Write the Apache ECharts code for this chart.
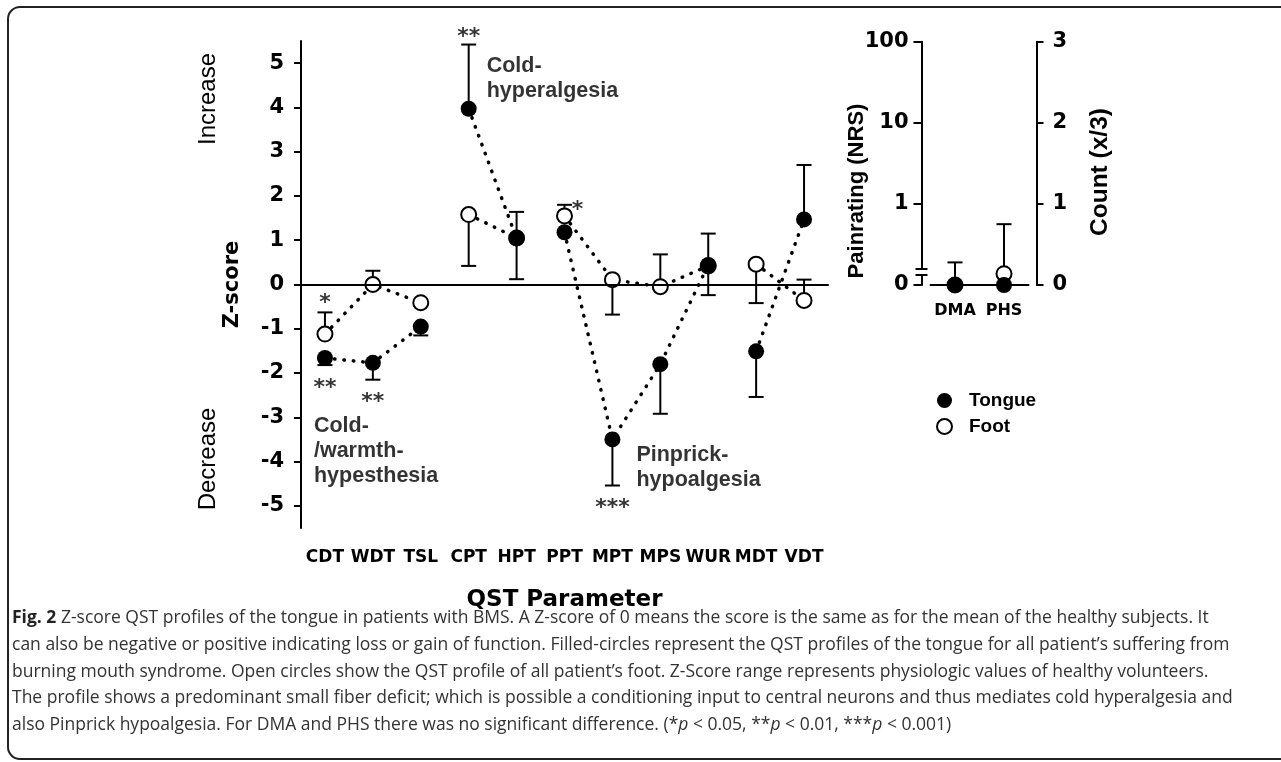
<!DOCTYPE html>
<html>
<head>
<meta charset="utf-8">
<script src="https://cdn.jsdelivr.net/npm/echarts@6/dist/echarts.min.js"></script>
<style>
  html, body { margin: 0; padding: 0; background: #fff; }
  #chart { width: 1281px; height: 762px; }
</style>
</head>
<body>
<div id="chart"></div>
<script>
// QST parameters and z-scores
const categories = ["CDT", "WDT", "TSL", "CPT", "HPT", "PPT", "MPT", "MPS", "WUR", "MDT", "VDT"];
const tongue = [-1.66, -1.77, -0.95, 3.97, 1.04, 1.18, -3.5, -1.8, 0.44, -1.51, 1.47];
const tongueErrLow = [-1.82, -2.15, -1.15, null, 0.12, null, -4.54, -2.92, -0.24, -2.54, null];
const tongueErrHigh = [null, null, null, 5.42, 1.64, null, null, null, 1.15, null, 2.7];
const foot = [-1.12, 0.0, -0.41, 1.58, 1.05, 1.55, 0.11, -0.05, 0.42, 0.46, -0.36];
const footErrLow = [null, null, null, 0.42, null, null, -0.68, null, null, -0.42, null];
const footErrHigh = [-0.63, 0.31, null, null, null, 1.8, null, 0.68, null, null, 0.11];
// index ranges joined by the dotted lines
const lineGroups = [[0, 2], [3, 4], [5, 8], [9, 10]];
const zTicks = [-5, -4, -3, -2, -1, 0, 1, 2, 3, 4, 5];

// significance stars and text notes
const starText = ["**", "*", "*", "**", "**", "***"];
const starCat = ["CPT", "PPT", "CDT", "CDT", "WDT", "MPT"];
const starValue = [5.7, 1.79, -0.31, -2.23, -2.55, -4.95];
const noteText = ["Cold-\nhyperalgesia", "Cold-\n/warmth-\nhypesthesia", "Pinprick-\nhypoalgesia"];
const noteCat = ["CPT", "CDT", "MPT"];
const noteValue = [5.21, -2.91, -3.57];

// side panel: DMA on pain rating (NRS, log), PHS on count (x/3)
const sideCategories = ["DMA", "PHS"];
const dmaTongue = 0, dmaFoot = 0, dmaTongueErrHigh = 0.19;
const phsTongue = 0, phsFoot = 0.14, phsFootErrHigh = 0.75;
const nrsFloor = 0.1; // "0" on the broken log axis
const countTicks = [0, 1, 2, 3];

const captionLines = [
  "{b|Fig. 2}{n| Z-score QST profiles of the tongue in patients with BMS. A Z-score of 0 means the score is the same as for the mean of the healthy subjects. It}",
  "{n|can also be negative or positive indicating loss or gain of function. Filled-circles represent the QST profiles of the tongue for all patient\u2019s suffering from}",
  "{n|burning mouth syndrome. Open circles show the QST profile of all patient\u2019s foot. Z-Score range represents physiologic values of healthy volunteers.}",
  "{n|The profile shows a predominant small fiber deficit; which is possible a conditioning input to central neurons and thus mediates cold hyperalgesia and}",
  "{n|also Pinprick hypoalgesia. For DMA and PHS there was no significant difference. (*}{i|p}{n| < 0.05, **}{i|p}{n| < 0.01, ***}{i|p}{n| < 0.001)}"
];

const BOLD = "DejaVu Sans";
const SANS = "Liberation Sans, Arial, sans-serif";
const CAP = "Open Sans, sans-serif";
const dotted = { color: "#000", width: 3.5, type: [0.5, 9], cap: "round" };

const chart = echarts.init(document.getElementById("chart"), null, { renderer: "canvas" });

function groupSeries(values, name) {
  return lineGroups.map(([a, b]) => ({
    name,
    type: "line",
    xAxisIndex: 0,
    yAxisIndex: 0,
    symbol: "none",
    silent: true,
    z: 2,
    lineStyle: dotted,
    data: values.map((v, i) => (i >= a && i <= b ? v : "-"))
  }));
}

function errorData(values, lows, highs) {
  return values.map((v, i) => [i, v, lows[i] ?? "-", highs[i] ?? "-"]);
}

function renderError(params, api) {
  const center = api.coord([api.value(0), api.value(1)]);
  const children = [];
  [2, 3].forEach((dim) => {
    const end = api.value(dim);
    if (isNaN(end)) return;
    const p = api.coord([api.value(0), end]);
    const style = { stroke: "#000", lineWidth: 2 };
    children.push({ type: "line", shape: { x1: center[0], y1: center[1], x2: p[0], y2: p[1] }, style });
    children.push({ type: "line", shape: { x1: p[0] - 7.5, y1: p[1], x2: p[0] + 7.5, y2: p[1] }, style });
  });
  return { type: "group", children };
}

function errorSeries(data, xi, yi) {
  return {
    type: "custom",
    xAxisIndex: xi,
    yAxisIndex: yi,
    silent: true,
    z: 3,
    renderItem: renderError,
    encode: { x: 0, y: [1, 2, 3] },
    data
  };
}

function sideText(id, text, x, y, size, weight) {
  return {
    id, type: "text", x, y, rotation: Math.PI / 2, silent: true,
    style: {
      text, fontFamily: SANS, fontSize: size, fontWeight: weight, fontStyle: "normal",
      fill: "#000", align: "center", verticalAlign: "middle"
    }
  };
}

const axisLine = { show: true, lineStyle: { color: "#000", width: 2 } };
const tickStyle = { color: "#000", width: 2 };
const tickLabel = { color: "#000", fontFamily: BOLD, fontWeight: "bold", fontSize: 21 };
const openCircle = { color: "#fff", borderColor: "#000", borderWidth: 2, opacity: 1 };
const filledCircle = { color: "#000", opacity: 1 };

const option = {
  animation: false,
  backgroundColor: "#fff",
  grid: [
    { left: 301, top: 41, width: 527, height: 487 },
    { left: 930.5, top: 41.7, width: 98, height: 243.3 }
  ],
  legend: {
    data: ["Tongue", "Foot"],
    orient: "vertical",
    left: 931,
    top: 386,
    itemWidth: 15,
    itemHeight: 15,
    itemGap: 7,
    icon: "circle",
    textStyle: { color: "#000", fontFamily: SANS, fontWeight: "bold", fontSize: 19, padding: [0, 0, 0, 12] }
  },
  xAxis: [
    {
      gridIndex: 0,
      type: "category",
      data: categories,
      axisLine,
      axisTick: { alignWithLabel: true, length: 7, lineStyle: tickStyle },
      axisLabel: { interval: 0, margin: 21, color: "#000", fontFamily: BOLD, fontWeight: "bold", fontSize: 17 },
      name: "QST Parameter",
      nameLocation: "middle",
      nameGap: 61,
      nameTextStyle: { color: "#000", fontFamily: BOLD, fontWeight: "bold", fontSize: 23 }
    },
    {
      gridIndex: 1,
      type: "category",
      data: sideCategories,
      axisLine,
      axisTick: { show: false },
      axisLabel: { interval: 0, margin: 18, color: "#000", fontFamily: BOLD, fontWeight: "bold", fontSize: 16 }
    }
  ],
  yAxis: [
    {
      gridIndex: 0,
      type: "value",
      min: -5.5,
      max: 5.5,
      axisLine,
      axisTick: { show: true, length: 7, lineStyle: tickStyle, customValues: zTicks },
      axisLabel: { ...tickLabel, margin: 17, customValues: zTicks },
      splitLine: { show: false },
      name: "Z-score",
      nameLocation: "middle",
      nameRotate: 90,
      nameGap: 58,
      nameTextStyle: { color: "#000", fontFamily: BOLD, fontWeight: "bold", fontSize: 21 }
    },
    {
      gridIndex: 1,
      type: "log",
      logBase: 10,
      min: nrsFloor,
      max: 100,
      position: "left",
      offset: 9,
      axisLine,
      axisTick: { show: true, length: 8, lineStyle: tickStyle },
      axisLabel: { ...tickLabel, margin: 13, formatter: (v) => (v < 1 ? "0" : String(Math.round(v))) },
      minorTick: { show: false },
      splitLine: { show: false }
    },
    {
      gridIndex: 1,
      type: "value",
      min: countTicks[0],
      max: countTicks[countTicks.length - 1],
      interval: 1,
      position: "right",
      offset: 8,
      axisLine,
      axisTick: { show: true, length: 7, lineStyle: tickStyle },
      axisLabel: { ...tickLabel, margin: 16 },
      splitLine: { show: false }
    }
  ],
  series: [
    ...groupSeries(foot, "footLine"),
    ...groupSeries(tongue, "tongueLine"),
    errorSeries(errorData(foot, footErrLow, footErrHigh), 0, 0),
    errorSeries(errorData(tongue, tongueErrLow, tongueErrHigh), 0, 0),
    {
      name: "Foot", type: "scatter", xAxisIndex: 0, yAxisIndex: 0,
      symbolSize: 15, z: 4, itemStyle: openCircle, data: foot
    },
    {
      name: "Tongue", type: "scatter", xAxisIndex: 0, yAxisIndex: 0,
      symbolSize: 16, z: 5, itemStyle: filledCircle, data: tongue,
      markLine: {
        silent: true,
        symbol: "none",
        label: { show: false },
        lineStyle: { color: "#000", width: 2, type: "solid" },
        data: [{ yAxis: 0 }]
      }
    },
    // side panel
    errorSeries([[0, Math.max(dmaTongue, nrsFloor), "-", dmaTongueErrHigh]], 1, 1),
    errorSeries([[1, phsFoot, "-", phsFootErrHigh]], 1, 2),
    {
      name: "Foot", type: "scatter", xAxisIndex: 1, yAxisIndex: 1,
      symbolSize: 15, z: 4, itemStyle: openCircle, data: [[0, Math.max(dmaFoot, nrsFloor)]]
    },
    {
      name: "Foot", type: "scatter", xAxisIndex: 1, yAxisIndex: 2,
      symbolSize: 15, z: 4, itemStyle: openCircle, data: [[1, phsFoot]]
    },
    {
      name: "Tongue", type: "scatter", xAxisIndex: 1, yAxisIndex: 1,
      symbolSize: 16, z: 5, itemStyle: filledCircle, data: [[0, Math.max(dmaTongue, nrsFloor)]]
    },
    {
      name: "Tongue", type: "scatter", xAxisIndex: 1, yAxisIndex: 2,
      symbolSize: 16, z: 5, itemStyle: filledCircle, data: [[1, phsTongue]]
    },
    // stars
    {
      type: "scatter",
      xAxisIndex: 0,
      yAxisIndex: 0,
      symbolSize: 0,
      silent: true,
      clip: false,
      z: 6,
      label: {
        show: true,
        position: "inside",
        color: "#000",
        fontFamily: "DejaVu Sans",
        fontWeight: "bold",
        fontSize: 22,
        offset: [0, 5],
        formatter: (p) => starText[p.dataIndex]
      },
      data: starCat.map((c, i) => ({
        value: [categories.indexOf(c), starValue[i]],
        label: c === "PPT" ? { offset: [13, 5] } : undefined
      }))
    },
    // text notes
    {
      type: "scatter",
      xAxisIndex: 0,
      yAxisIndex: 0,
      symbolSize: 0,
      silent: true,
      clip: false,
      z: 6,
      label: {
        show: true,
        position: "inside",
        align: "left",
        verticalAlign: "top",
        color: "#000",
        fontFamily: SANS,
        fontWeight: "bold",
        fontSize: 21.5,
        lineHeight: 25,
        formatter: (p) => noteText[p.dataIndex]
      },
      data: noteCat.map((c, i) => ({
        value: [categories.indexOf(c), noteValue[i]],
        label: { offset: c === "CPT" ? [18, 0] : c === "CDT" ? [-11, 0] : [24, 0] }
      }))
    }
  ],
  graphic: [
    {
      id: "frame",
      type: "rect",
      silent: true,
      shape: { x: 8, y: 7, width: 1300, height: 752, r: 12 },
      style: { fill: "none", stroke: "#222", lineWidth: 2 }
    },
    sideText("increase", "Increase", 208, 99, 24, "normal"),
    sideText("decrease", "Decrease", 208, 459, 24, "normal"),
    sideText("nrsName", "Painrating (NRS)", 857, 191, 22, "bold"),
    sideText("countName", "Count (x/3)", 1100, 172, 24.5, "bold"),
    ...captionLines.map((t, i) => ({
      id: "caption" + i,
      type: "text",
      silent: true,
      x: 12,
      y: 618 + i * 26.8,
      style: {
        text: t,
        verticalAlign: "middle",
        rich: {
          b: { fontWeight: "bold", fill: "#222", fontFamily: CAP, fontSize: 17.5 },
          n: { fill: "#333", fontFamily: CAP, fontSize: 17.5 },
          i: { fontStyle: "italic", fill: "#333", fontFamily: CAP, fontSize: 17.5 }
        }
      }
    }))
  ]
};

chart.setOption(option);

// axis break marks on the pain rating axis, just above its "0"
const zeroY = chart.convertToPixel({ yAxisIndex: 1 }, nrsFloor);
const axisX = chart.convertToPixel({ xAxisIndex: 1 }, 0) - 33.5;
const zr = chart.getZr();
const breakStyle = { stroke: "#000", lineWidth: 2 };
zr.add(new echarts.graphic.Rect({
  shape: { x: axisX - 3, y: zeroY - 15, width: 6, height: 4 },
  style: { fill: "#fff" },
  z: 100
}));
zr.add(new echarts.graphic.Line({
  shape: { x1: axisX - 6, y1: zeroY - 16, x2: axisX + 6, y2: zeroY - 16 },
  style: breakStyle,
  z: 101
}));
zr.add(new echarts.graphic.Line({
  shape: { x1: axisX - 6, y1: zeroY - 10, x2: axisX + 6, y2: zeroY - 10 },
  style: breakStyle,
  z: 101
}));
</script>
</body>
</html>
